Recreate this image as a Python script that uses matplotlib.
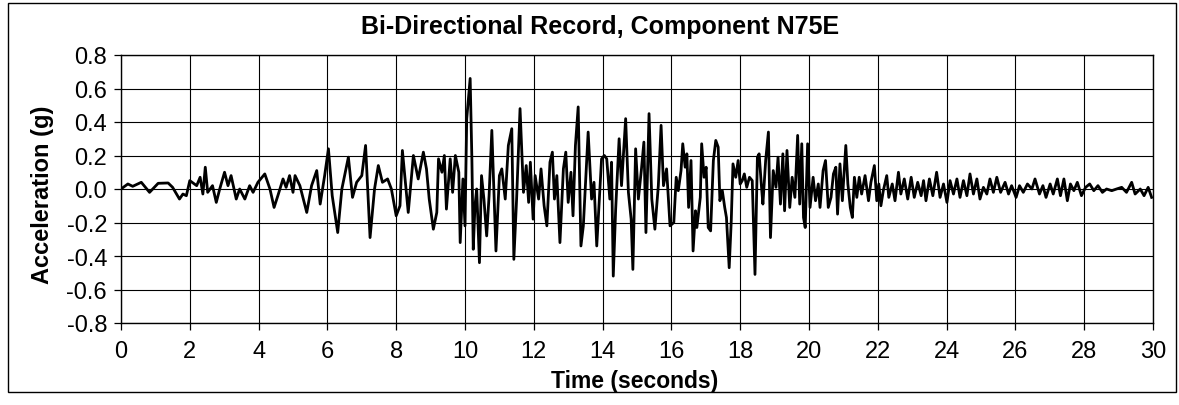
import matplotlib
matplotlib.use("Agg")
import matplotlib.pyplot as plt
from matplotlib.patches import Rectangle

plt.rcParams["font.family"] = ["Liberation Sans", "DejaVu Sans"]

# turning points of the trace
time_s = [
    0.0, 0.2, 0.34, 0.59, 0.83, 1.08, 1.37, 1.5, 1.7, 1.8, 1.9,
    2.0, 2.2, 2.3, 2.38, 2.45, 2.52, 2.66, 2.77, 2.87, 3.01, 3.11, 3.2, 3.35, 3.45, 3.6, 3.74, 3.84, 3.98,
    4.18, 4.33, 4.45, 4.56, 4.71, 4.8, 4.9, 5.0, 5.06, 5.2, 5.4, 5.54, 5.69, 5.79, 5.92,
    6.03, 6.14, 6.3, 6.42, 6.61, 6.73, 6.85, 7.0, 7.11, 7.24, 7.37, 7.48, 7.6, 7.75, 7.86,
    8.0, 8.11, 8.18, 8.35, 8.5, 8.64, 8.79, 8.88, 8.96, 9.08, 9.18, 9.23, 9.33, 9.4, 9.46, 9.57, 9.64, 9.72, 9.82, 9.86, 9.94,
    10.0, 10.05, 10.15, 10.2, 10.24, 10.29, 10.34, 10.42, 10.48, 10.55, 10.63, 10.7, 10.78, 10.85, 10.9,
    11.0, 11.07, 11.17, 11.26, 11.36, 11.42, 11.5, 11.6, 11.7, 11.78, 11.85, 11.9, 11.98,
    12.04, 12.14, 12.21, 12.3, 12.38, 12.47, 12.54, 12.6, 12.67, 12.76, 12.86, 12.93,
    13.0, 13.08, 13.14, 13.21, 13.29, 13.37, 13.44, 13.5, 13.58, 13.68, 13.75, 13.83, 13.9, 13.97,
    14.05, 14.12, 14.21, 14.26, 14.31, 14.38, 14.48, 14.55, 14.67, 14.75, 14.83, 14.88, 14.96,
    15.04, 15.13, 15.2, 15.26, 15.35, 15.43, 15.52, 15.62, 15.7, 15.77, 15.86, 15.96,
    16.07, 16.14, 16.2, 16.28, 16.33, 16.4, 16.45, 16.5, 16.57, 16.63, 16.7, 16.74, 16.84, 16.88, 16.95,
    17.01, 17.07, 17.14, 17.22, 17.29, 17.36, 17.41, 17.48, 17.55, 17.6, 17.68, 17.74, 17.79, 17.87, 17.94,
    18.0, 18.06, 18.12, 18.19, 18.27, 18.35, 18.43, 18.5, 18.55, 18.62, 18.66, 18.74, 18.82, 18.88, 18.96,
    19.04, 19.1, 19.17, 19.24, 19.29, 19.36, 19.44, 19.51, 19.59, 19.67, 19.73, 19.79, 19.84, 19.89, 19.96,
    20.03, 20.12, 20.19, 20.27, 20.32, 20.41, 20.48, 20.56, 20.64, 20.71, 20.78, 20.83, 20.9, 20.97,
    21.07, 21.13, 21.2, 21.26, 21.32, 21.39, 21.46, 21.53, 21.63, 21.73, 21.8, 21.9, 21.97,
    22.03, 22.09, 22.16, 22.26, 22.32, 22.42, 22.5, 22.6, 22.67, 22.77, 22.87, 22.97,
    23.06, 23.16, 23.26, 23.33, 23.4, 23.5, 23.6, 23.71, 23.81, 23.91,
    24.01, 24.1, 24.2, 24.3, 24.39, 24.49, 24.59, 24.68, 24.78, 24.88, 24.97,
    25.07, 25.17, 25.26, 25.36, 25.46, 25.57, 25.7, 25.8, 25.89,
    26.02, 26.12, 26.23, 26.35, 26.48, 26.57, 26.7, 26.8, 26.89,
    27.01, 27.1, 27.22, 27.31, 27.41, 27.51, 27.6, 27.7, 27.8, 27.92,
    28.04, 28.16, 28.28, 28.4, 28.53, 28.65, 28.8, 28.94,
    29.09, 29.23, 29.38, 29.48, 29.63, 29.74, 29.86, 29.96,
]
accel_g = [
    0.0, 0.03, 0.016, 0.04, -0.02, 0.034, 0.036, 0.01, -0.06, -0.03, -0.04,
    0.05, 0.02, 0.07, -0.03, 0.13, -0.02, 0.02, -0.08, 0.0, 0.1, 0.02, 0.08, -0.06, 0.0, -0.06, 0.02, -0.02, 0.04,
    0.09, 0.0, -0.11, -0.04, 0.06, 0.01, 0.08, -0.02, 0.08, 0.02, -0.14, 0.02, 0.11, -0.09, 0.08,
    0.24, -0.04, -0.26, 0.0, 0.19, -0.05, 0.04, 0.08, 0.26, -0.29, 0.0, 0.14, 0.04, 0.06, 0.0,
    -0.16, -0.1, 0.23, -0.14, 0.2, 0.06, 0.22, 0.12, -0.06, -0.24, -0.14, 0.18, 0.1, 0.2, -0.12, 0.18, -0.02, 0.2, 0.1, -0.32, 0.06,
    -0.22, 0.42, 0.66, 0.18, -0.36, -0.1, 0.0, -0.44, 0.08, -0.06, -0.28, -0.04, 0.35, -0.06, -0.37,
    0.08, 0.12, -0.06, 0.26, 0.36, -0.42, -0.06, 0.48, -0.02, 0.14, -0.08, 0.16, -0.18,
    0.08, -0.06, 0.12, -0.1, -0.22, 0.16, 0.22, -0.06, 0.08, -0.32, 0.12, 0.22,
    -0.08, 0.1, -0.16, 0.26, 0.49, -0.34, -0.22, 0.02, 0.34, -0.06, 0.04, -0.34, -0.08, 0.18,
    0.2, 0.18, -0.06, 0.16, -0.52, -0.12, 0.3, 0.02, 0.42, -0.02, -0.18, -0.48, 0.24,
    -0.06, 0.12, 0.28, -0.26, 0.45, -0.06, -0.24, 0.02, 0.38, 0.02, 0.12, -0.22,
    -0.2, 0.07, -0.01, 0.11, 0.27, 0.13, 0.21, -0.11, 0.17, -0.37, -0.13, -0.23, -0.05, 0.27, 0.07,
    0.13, -0.23, -0.25, 0.17, 0.29, 0.25, -0.07, -0.01, -0.11, -0.17, -0.47, -0.19, 0.15, 0.07, 0.17,
    0.03, 0.05, 0.09, 0.01, 0.07, 0.05, -0.51, 0.19, 0.21, 0.01, -0.09, 0.17, 0.34, -0.29, 0.11,
    0.01, 0.19, -0.09, 0.21, -0.13, 0.23, -0.11, 0.07, -0.05, 0.32, -0.09, 0.27, -0.17, -0.23, 0.27,
    -0.11, 0.07, -0.07, 0.03, -0.11, 0.11, 0.17, -0.11, -0.05, 0.09, 0.13, -0.15, 0.15, -0.07,
    0.26, 0.03, -0.11, -0.17, 0.07, -0.05, 0.07, -0.03, 0.08, -0.07, 0.04, 0.14, -0.07,
    0.03, -0.1, -0.01, 0.08, -0.05, 0.03, -0.07, 0.1, -0.03, 0.06, -0.06, 0.07,
    -0.05, 0.04, -0.04, 0.05, -0.07, 0.06, -0.04, 0.1, -0.05, 0.03,
    -0.08, 0.05, -0.03, 0.06, -0.05, 0.05, -0.04, 0.09, -0.03, 0.06, -0.06,
    0.01, -0.03, 0.06, -0.02, 0.07, -0.02, 0.04, -0.03, 0.02,
    -0.05, 0.02, -0.02, 0.03, 0.0, 0.06, -0.03, 0.02, -0.05,
    0.03, -0.03, 0.06, -0.04, 0.06, -0.07, 0.03, -0.01, 0.04, -0.04,
    0.01, 0.03, -0.01, 0.02, -0.02, 0.0, -0.01, 0.0,
    0.01, -0.02, 0.04, -0.03, 0.0, -0.04, 0.01, -0.05,
]

x_ticks = list(range(0, 31, 2))
y_ticks = [-0.8, -0.6, -0.4, -0.2, 0.0, 0.2, 0.4, 0.6, 0.8]

W, H = 1179, 406
fig = plt.figure(figsize=(W / 100, H / 100), dpi=100)
ax = fig.add_axes([121 / W, 1 - 324 / H, (1153 - 121) / W, (324 - 56) / H])

ax.plot(time_s, accel_g, color="black", lw=2.0)

ax.set_xlim(0, 30)
ax.set_ylim(-0.8, 0.8)
ax.set_xticks(x_ticks)
ax.set_yticks(y_ticks)
ax.set_yticklabels([f"{v:.1f}" for v in y_ticks])
ax.grid(True, color="black", lw=0.8)
ax.set_axisbelow(True)
ax.tick_params(direction="out", length=5, width=0.9, colors="black", labelsize=17)
ax.tick_params(axis="x", pad=7)
ax.tick_params(axis="y", pad=5)
for s in ax.spines.values():
    s.set_color("black")
    s.set_linewidth(1.0)

# title and axis labels placed in figure pixels
fig.text(600 / W, 1 - 27 / H, "Bi-Directional Record, Component N75E",
         fontsize=18, fontweight="bold", ha="center", va="center")
fig.text(635 / W, 1 - 382 / H, "Time (seconds)",
         fontsize=16.5, fontweight="bold", ha="center", va="center")
fig.text(43 / W, 1 - 195 / H, "Acceleration (g)", rotation=90,
         fontsize=17, fontweight="bold", ha="center", va="center")

# outer chart border
fig.patches.append(Rectangle((8 / W, 1 - 393 / H), (1176 - 8) / W, (393 - 4) / H,
                             transform=fig.transFigure, fill=False, ec="black", lw=1.0))

fig.savefig("out.png", dpi=100)
